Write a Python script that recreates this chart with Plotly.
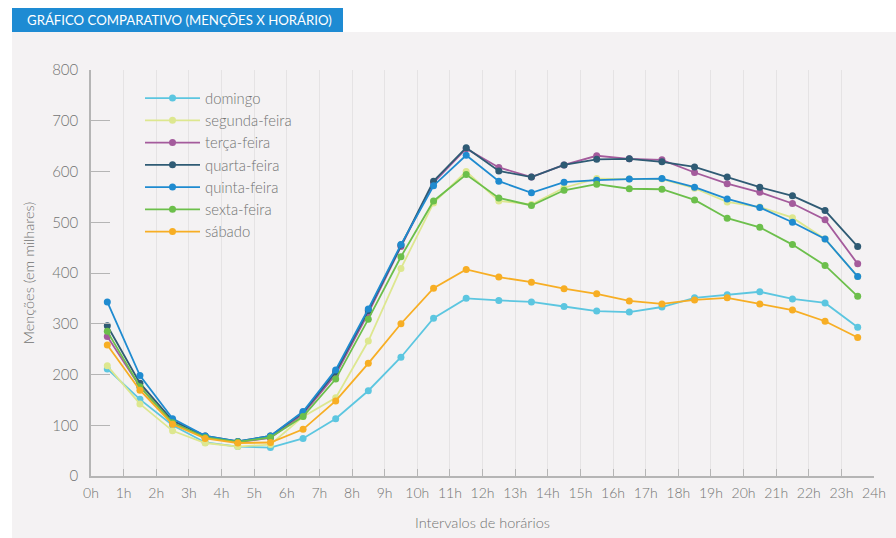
import plotly.graph_objects as go

# Hour slots (midpoint of each one-hour interval) and axis labels
hours = [h + 0.5 for h in range(24)]
hour_ticks = list(range(25))
hour_labels = [f"{h}h" for h in hour_ticks]

# Mentions per hour interval, in thousands
domingo = [211, 151, 100, 66, 58, 56, 74, 113, 168, 234, 311, 350, 346, 343, 334, 325, 323, 333, 351, 357, 363, 349, 341, 293]
segunda = [217, 142, 89, 65, 58, 62, 117, 154, 266, 409, 538, 600, 542, 535, 568, 586, 585, 585, 567, 540, 530, 509, 467, 393]
terca = [275, 176, 105, 76, 67, 75, 122, 200, 321, 452, 578, 645, 608, 589, 613, 631, 625, 623, 598, 576, 559, 537, 505, 418]
quarta = [296, 183, 109, 79, 68, 79, 125, 205, 326, 455, 581, 647, 601, 589, 613, 624, 625, 619, 609, 589, 569, 552, 523, 452]
quinta = [343, 198, 113, 79, 68, 79, 127, 209, 329, 456, 572, 632, 581, 558, 579, 583, 585, 586, 569, 546, 529, 500, 467, 393]
sexta = [285, 176, 105, 76, 67, 76, 117, 191, 309, 432, 542, 594, 548, 533, 563, 575, 566, 565, 544, 508, 490, 456, 415, 354]
sabado = [258, 169, 102, 74, 65, 66, 92, 148, 222, 300, 370, 407, 392, 382, 369, 359, 345, 339, 347, 351, 339, 327, 305, 273]

series = [
    ("domingo", domingo, "#5cc6e0"),
    ("segunda-feira", segunda, "#dde78f"),
    ("terça-feira", terca, "#a45b9c"),
    ("quarta-feira", quarta, "#2f5b74"),
    ("quinta-feira", quinta, "#1f8bd0"),
    ("sexta-feira", sexta, "#6cbf4b"),
    ("sábado", sabado, "#f7ae24"),
]

fig = go.Figure()
for name, values, color in series:
    fig.add_trace(go.Scatter(
        x=hours, y=values, name=name, mode="lines+markers",
        line=dict(color=color, width=1.8),
        marker=dict(color=color, size=7),
    ))

# Plot area geometry in pixels (used to place the panel and header band)
W, H = 896, 538
L, R, T, B = 91, 22, 70, 62
pw, ph = W - L - R, H - T - B

def px_x(x):
    return (x - L) / pw

def px_y(y):
    return (H - B - y) / ph

text_color = "#727272"
light = dict(family="Lato", color=text_color, weight=300)

shapes = [
    # light grey panel behind the chart
    dict(type="rect", xref="paper", yref="paper", layer="below",
         x0=px_x(12), x1=px_x(W + 2), y0=px_y(H + 2), y1=px_y(32),
         fillcolor="#f4f2f3", line=dict(width=0)),
    # blue header band
    dict(type="rect", xref="paper", yref="paper", layer="below",
         x0=px_x(12), x1=px_x(343), y0=px_y(32), y1=px_y(8),
         fillcolor="#1e8bd3", line=dict(width=0)),
]

fig.update_layout(
    width=W, height=H,
    margin=dict(l=L, r=R, t=T, b=B),
    paper_bgcolor="white",
    plot_bgcolor="rgba(0,0,0,0)",
    font=dict(size=14, **light),
    shapes=shapes,
    annotations=[
        dict(text="GRÁFICO COMPARATIVO (MENÇÕES X HORÁRIO)",
             xref="paper", yref="paper", x=px_x(25), y=px_y(20),
             xanchor="left", yanchor="middle", showarrow=False,
             font=dict(color="white", size=13.2, family="Lato", weight=400)),
    ],
    showlegend=True,
    legend=dict(
        x=px_x(140), y=px_y(82), xanchor="left", yanchor="top",
        bgcolor="rgba(0,0,0,0)", font=dict(size=14.8, **light),
        tracegroupgap=0, itemwidth=55,
    ),
    xaxis=dict(
        range=[0, 24], tickmode="array", tickvals=hour_ticks, ticktext=hour_labels,
        automargin=False,
        showgrid=True, gridcolor="#e5e3e4", gridwidth=1,
        showline=True, linecolor="#b5b5b5", linewidth=1.5,
        ticks="inside", ticklen=7, tickcolor="#b5b5b5",
        tickfont=dict(size=14, **light),
        ticklabelstandoff=3,
        zeroline=False,
        title=dict(text="Intervalos de horários", font=dict(size=14.5, **light), standoff=18),
    ),
    yaxis=dict(
        range=[0, 800], tickvals=[0, 100, 200, 300, 400, 500, 600, 700, 800],
        automargin=False,
        showgrid=False, zeroline=False,
        showline=True, linecolor="#b5b5b5", linewidth=1.5,
        ticks="inside", ticklen=19, tickcolor="#b5b5b5",
        tickfont=dict(size=15, **light),
        ticklabelstandoff=8,
        title=dict(text="Menções (em milhares)", font=dict(size=14.5, **light), standoff=14),
    ),
)

fig.write_html("out.html")
